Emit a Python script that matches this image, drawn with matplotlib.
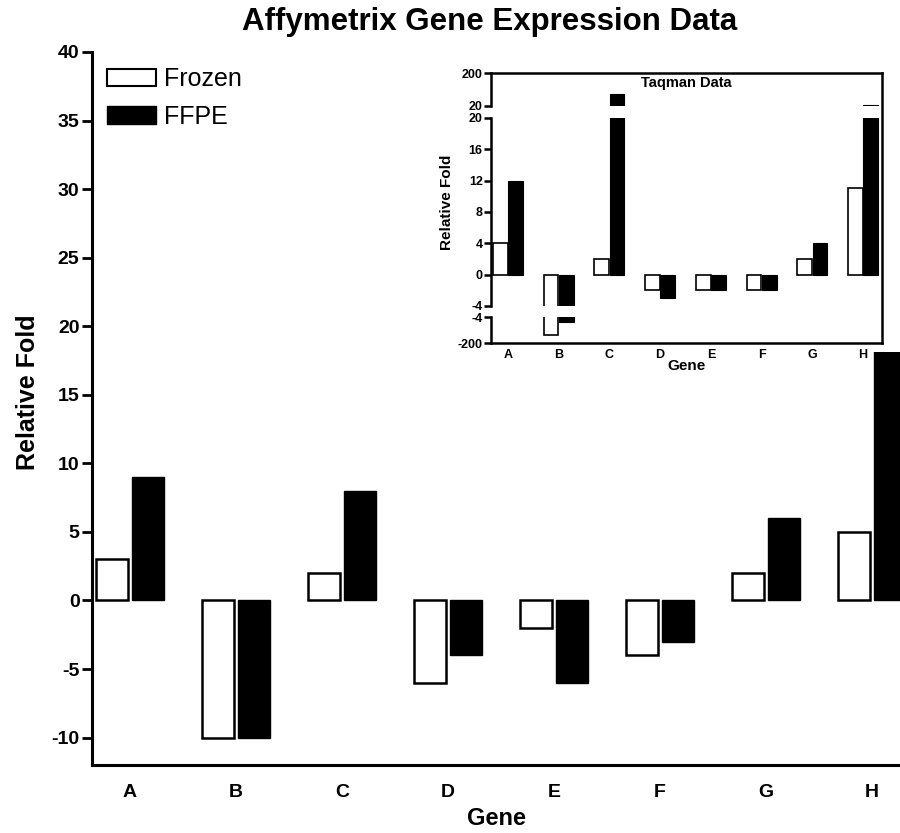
import matplotlib
matplotlib.use("Agg")
import matplotlib.pyplot as plt
import numpy as np
from matplotlib.patches import Patch

genes = ["A", "B", "C", "D", "E", "F", "G", "H"]
affy_frozen = [3, -10, 2, -6, -2, -4, 2, 5]
affy_ffpe = [9, -10, 8, -4, -6, -3, 6, 30]
taq_frozen = [4, -140, 2, -2, -2, -2, 2, 11]
taq_ffpe = [12, -40, 85, -3, -2, -2, 4, 28]

main_yticks = [-10, -5, 0, 5, 10, 15, 20, 25, 30, 35, 40]
inset_top_ticks = [20, 200]
inset_mid_ticks = [-4, 0, 4, 8, 12, 16, 20]
inset_bot_ticks = [-200, -4]

plt.rcParams['font.family'] = ['Liberation Sans', 'DejaVu Sans']

W, H = 900, 833
fig = plt.figure(figsize=(W / 100, H / 100), dpi=100)


def rect(l, t, r, b):
    return [l / W, 1 - b / H, (r - l) / W, (b - t) / H]


x = np.arange(len(genes))

# ---------- main axes ----------
ax = fig.add_axes(rect(92, 52, 900, 765))
bw = 0.30
off = 0.17
ax.bar(x - off, affy_frozen, bw, color="white", edgecolor="black", linewidth=1.8)
ax.bar(x + off, affy_ffpe, bw, color="black", edgecolor="black", linewidth=1.0)
ax.set_xlim(-0.358, 7.264)
ax.set_ylim(-12, 40)
ax.set_yticks(main_yticks)
ax.set_yticklabels([str(v) for v in main_yticks], fontweight="bold", fontsize=14)
ax.set_xticks(x)
ax.set_xticklabels(genes, fontweight="bold", fontsize=14)
ax.tick_params(axis="x", length=0, pad=14)
ax.tick_params(axis="y", direction="out", length=7, width=2, pad=2)
for s in ["top", "right"]:
    ax.spines[s].set_visible(False)
for s in ["left", "bottom"]:
    ax.spines[s].set_linewidth(2.2)
fig.text(28 / W, 1 - 392 / H, "Relative Fold", rotation=90, ha="center",
         va="center", fontweight="bold", fontsize=18)
ax.set_xlabel("Gene", fontweight="bold", fontsize=17, labelpad=4)
fig.text(490 / W, 1 - 22 / H, "Affymetrix Gene Expression Data", ha="center",
         va="center", fontweight="bold", fontsize=22.5)

handles = [Patch(facecolor="white", edgecolor="black", linewidth=1.5, label="Frozen"),
           Patch(facecolor="black", edgecolor="black", label="FFPE")]
ax.legend(handles=handles, loc="upper left", bbox_to_anchor=(0.0, 1.0),
          frameon=False, fontsize=18, handlelength=1.95, handleheight=0.68,
          handletextpad=0.32, labelspacing=0.55, borderaxespad=0.2)

# ---------- white cover behind inset ----------
cover = fig.add_axes(rect(420, 60, 900, 352))
cover.axis("off")
cover.add_patch(plt.Rectangle((0, 0), 1, 1, transform=cover.transAxes,
                              facecolor="white", edgecolor="none"))

# ---------- inset ----------
L, R = 491, 882
ixlim = (-0.335, 7.375)
ibw = 0.29
ioff = 0.15
frame = fig.add_axes(rect(L, 73, R, 343))
frame.set_facecolor("none")
frame.set_xticks([])
frame.set_yticks([])
frame.spines["left"].set_visible(False)
for s in ["top", "right", "bottom"]:
    frame.spines[s].set_linewidth(1.8)
fig.text(686 / W, 1 - 83 / H, "Taqman Data", ha="center", va="center",
         fontweight="bold", fontsize=10.5)

segs = [
    (rect(L, 73, R, 106), (20, 200), inset_top_ticks),
    (rect(L, 118, R, 306), (-4, 20), inset_mid_ticks),
    (rect(L, 317, R, 343), (-200, -4), inset_bot_ticks),
]
axes_in = []
for pos, ylim, ticks in segs:
    a = fig.add_axes(pos)
    a.set_facecolor("none")
    lo, hi = ylim
    for vals, dx, fc, lw in [(taq_frozen, -ioff, "white", 1.2),
                             (taq_ffpe, ioff, "black", 0.8)]:
        for xi, v in zip(x, vals):
            vmin, vmax = min(0, v), max(0, v)
            if vmax > lo and vmin < hi:
                a.bar(xi + dx, v, ibw, color=fc, edgecolor="black", linewidth=lw)
    a.set_xlim(*ixlim)
    a.set_ylim(*ylim)
    a.set_yticks(ticks)
    a.set_yticklabels([str(v) for v in ticks], fontweight="bold", fontsize=9)
    a.tick_params(axis="y", direction="out", length=5, width=1.8, pad=1)
    for s in ["top", "right", "bottom"]:
        a.spines[s].set_visible(False)
    a.spines["left"].set_linewidth(1.8)
    a.set_xticks([])
    axes_in.append(a)

bot = axes_in[-1]
bot.set_xticks(x)
bot.set_xticklabels(genes, fontweight="bold", fontsize=9)
bot.tick_params(axis="x", length=0, pad=4)
bot.set_xlabel("Gene", fontweight="bold", fontsize=11, labelpad=-1)
fig.text(447 / W, 1 - 202 / H, "Relative Fold", rotation=90, ha="center",
         va="center", fontweight="bold", fontsize=11)

fig.savefig("out.png", dpi=100)
